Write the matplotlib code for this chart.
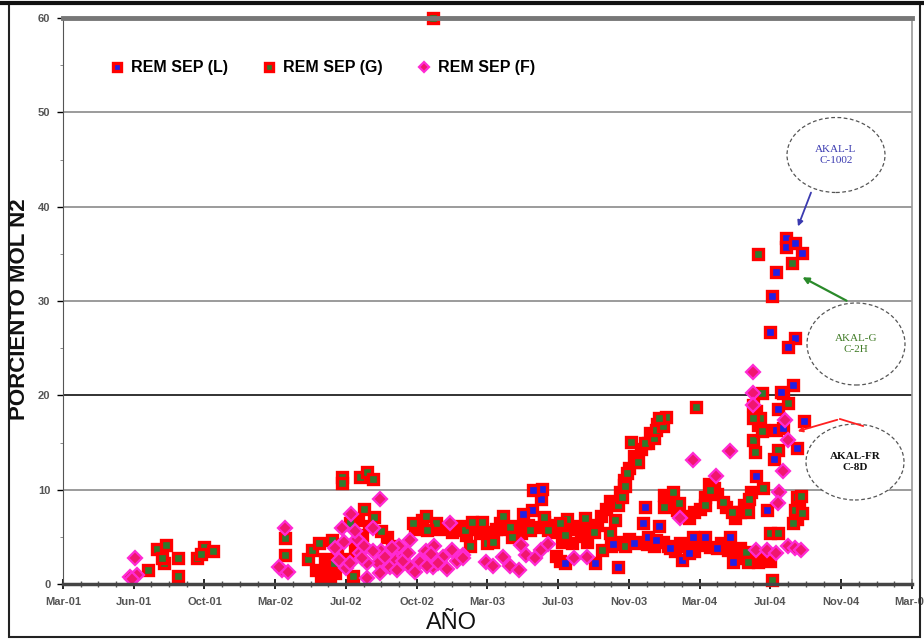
import numpy as np
import matplotlib
matplotlib.use("Agg")
import matplotlib.pyplot as plt
from matplotlib.patches import Ellipse, Rectangle

W, H = 924, 639

# x axis: months counted from Mar-01, one major tick every 4 months
tick_pos = list(range(0, 49, 4))
tick_labels = ["Mar-01", "Jun-01", "Oct-01", "Mar-02", "Jul-02", "Oct-02", "Mar-03",
               "Jul-03", "Nov-03", "Mar-04", "Jul-04", "Nov-04", "Mar-05"]

# (month, % mol N2)
rem_g = [(4.8, 1.5), (5.3, 3.7), (5.8, 4.1), (5.7, 2.2), (5.6, 2.8), (6.5, 2.8), (6.5, 0.85),
         (7.6, 2.75), (8.0, 3.9), (8.5, 3.5), (7.8, 3.2),
         (12.55, 4.9), (12.55, 3.1), (13.85, 2.7), (14.1, 3.6), (14.5, 4.3), (15.3, 2.2),
         (15.2, 4.7), (15.8, 11.3), (15.8, 10.7), (16.8, 11.3), (17.2, 11.9), (17.5, 11.1),
         (17.0, 7.95), (17.6, 7.1), (16.2, 6.5), (18.0, 5.6), (16.4, 0.85), (18.6, 4.0),
         (19.8, 6.5), (20.5, 7.2), (21.1, 6.5), (20.6, 5.7), (22.7, 5.7), (23.1, 6.6),
         (23.0, 4.0), (20.9, 60.0),
         (23.7, 6.6), (24.0, 4.3), (24.3, 4.5), (24.9, 7.2), (25.3, 6.0), (25.4, 5.0),
         (26.4, 5.7), (27.2, 7.1), (27.4, 5.7), (28.5, 6.9), (28.4, 5.2), (28.1, 6.5),
         (29.5, 7.0), (30.0, 5.5), (30.5, 3.6), (30.9, 5.4), (31.2, 6.8), (31.4, 8.4),
         (31.6, 9.2), (31.7, 10.5), (31.9, 11.8), (32.4, 12.9), (32.1, 15.1), (32.5, 12.9),
         (32.9, 14.9), (33.4, 15.5), (33.5, 16.3), (33.9, 16.7), (34.1, 17.7), (33.7, 17.6),
         (35.8, 18.8), (31.8, 10.4), (31.8, 4.0),
         (34.5, 9.8), (34.8, 8.6), (34.0, 8.2), (36.3, 8.4), (36.6, 10.0), (37.3, 8.7),
         (37.8, 7.6), (38.8, 9.0), (38.7, 7.6), (38.6, 3.4), (38.7, 2.3),
         (39.0, 15.3), (39.1, 14.0), (39.6, 16.3), (39.4, 17.6), (39.5, 20.2), (39.0, 19.0),
         (39.0, 17.6), (39.5, 16.2), (39.6, 10.2), (40.0, 5.4), (40.4, 5.4), (40.1, 0.4),
         (40.4, 14.2), (41.0, 19.2), (41.5, 9.2), (41.4, 7.8), (41.3, 6.5), (41.7, 9.3),
         (41.8, 7.5), (39.3, 35.0), (41.2, 34.0)]

rem_l = [(27.0, 9.0), (27.1, 10.1), (26.6, 10.0), (26.5, 7.8), (26.0, 7.4), (28.4, 2.2),
         (30.1, 2.2), (31.1, 4.2), (31.4, 1.8), (32.9, 8.2), (32.8, 6.5), (33.7, 6.1),
         (32.3, 4.3), (33.1, 5.0), (33.5, 4.7), (34.3, 3.8), (35.0, 2.5), (35.6, 5.0),
         (36.3, 5.0), (35.4, 3.3), (37.0, 3.8), (37.7, 5.0), (37.9, 2.3), (39.2, 11.5),
         (39.8, 7.8), (40.7, 20.2), (41.3, 21.1), (40.4, 18.5), (40.3, 16.3), (40.7, 16.5),
         (40.2, 13.3), (41.5, 14.4), (41.9, 17.3), (40.9, 36.7), (40.9, 35.7), (41.4, 36.1),
         (41.8, 35.1), (40.3, 33.1), (40.1, 30.5), (40.0, 26.7), (41.4, 26.1), (41.0, 25.1),
         (40.6, 20.4)]

rem_f = [(4.07, 2.8), (3.8, 0.7), (4.2, 1.0), (3.9, 0.5),
         (12.4, 1.5), (12.7, 1.3), (12.55, 5.9), (12.2, 1.8),
         (15.8, 5.9), (16.3, 7.4), (17.9, 9.0), (17.5, 5.9), (16.0, 1.7), (17.2, 0.6),
         (17.8, 2.2), (17.2, 2.2), (16.8, 3.3), (18.3, 3.1), (18.5, 1.8), (19.0, 4.0),
         (19.6, 4.7), (19.6, 1.8), (20.9, 1.8), (21.5, 2.9), (21.9, 6.5), (22.6, 3.1),
         (18.0, 3.5), (18.8, 2.5), (19.3, 3.0), (20.2, 2.5), (20.5, 3.5), (21.0, 4.0),
         (16.6, 4.8), (17.0, 4.0), (15.6, 2.5), (15.4, 3.8), (15.9, 4.5), (16.5, 5.6),
         (16.2, 2.2), (16.9, 2.8), (17.5, 3.5), (17.9, 1.2), (18.2, 2.9), (18.6, 3.8),
         (18.9, 1.5), (19.2, 2.4), (19.5, 3.3), (19.9, 1.3), (20.2, 2.3), (20.6, 1.9),
         (20.8, 3.2), (21.2, 2.2), (21.7, 1.6), (22.0, 3.6), (22.3, 2.4),
         (22.6, 2.75), (23.9, 2.3), (24.3, 1.9), (24.9, 2.9), (25.3, 1.9), (25.8, 1.5),
         (25.9, 4.1), (26.2, 3.1), (26.7, 2.8), (27.0, 3.6), (27.4, 4.2), (28.9, 2.75),
         (29.6, 2.9),
         (35.6, 13.1), (36.9, 11.4), (37.7, 14.1), (34.9, 7.0), (39.0, 22.5), (39.0, 20.2),
         (39.0, 19.0), (39.2, 3.6), (39.8, 3.6), (40.3, 3.3), (40.8, 17.4), (41.0, 15.3),
         (40.7, 12.0), (40.5, 9.7), (40.4, 8.6), (41.0, 4.0), (41.4, 3.8), (41.7, 3.6)]

# solid red blobs where the squares pile up
rem_red = [(14.3, 1.5), (14.6, 0.9), (14.9, 1.8), (15.1, 0.6), (15.4, 1.2), (15.7, 2.0),
           (14.8, 2.6), (15.5, 3.2), (16.1, 2.6), (16.5, 3.8), (16.9, 5.2), (17.3, 6.2),
           (16.7, 6.8), (18.3, 5.0), (18.7, 3.4),
           (19.9, 5.8), (20.3, 6.8), (21.3, 5.8), (21.6, 6.0), (22.0, 5.5), (22.4, 6.2),
           (22.8, 5.2), (23.4, 5.8), (23.6, 5.4),
           (24.0, 5.5), (24.5, 5.8), (24.7, 6.5), (25.0, 5.8), (25.6, 6.2), (25.9, 5.4),
           (26.3, 6.3), (26.8, 6.0), (27.2, 6.6), (27.6, 6.3), (27.9, 5.5), (28.2, 4.5),
           (28.6, 5.8), (28.8, 4.3), (29.1, 6.1), (29.3, 5.1), (29.6, 4.4), (29.8, 6.0),
           (30.2, 6.3), (30.4, 7.2), (30.7, 8.0), (30.9, 8.8), (27.9, 3.0), (28.1, 2.4),
           (31.5, 9.8), (31.7, 11.0), (32.0, 12.3), (32.3, 13.6), (32.7, 14.3), (33.1, 15.0),
           (33.2, 16.0), (33.6, 17.0),
           (31.0, 4.0), (31.6, 4.5), (32.0, 4.8), (32.6, 4.4), (33.0, 4.2), (33.4, 4.0),
           (33.9, 4.5), (34.2, 4.0), (34.6, 3.5), (34.9, 4.3), (35.3, 4.0), (35.7, 3.5),
           (36.0, 4.1), (36.6, 3.9), (37.2, 4.3), (37.6, 3.6), (38.0, 3.0), (38.3, 3.8),
           (38.5, 2.8), (38.9, 2.5), (39.3, 2.3), (39.6, 2.8), (40.0, 2.4),
           (34.3, 9.0), (34.7, 7.8), (35.1, 7.2), (35.4, 7.0), (35.7, 7.6), (36.0, 8.0),
           (36.3, 9.2), (36.5, 10.6), (36.8, 10.2), (37.0, 9.5), (37.5, 8.2), (38.0, 7.0),
           (38.3, 7.6), (38.5, 8.4), (38.9, 9.8), (34.0, 9.4),
           (39.2, 18.3), (39.3, 16.9), (41.6, 8.5), (41.5, 6.9)]


def px(x, y):
    return (x / W, 1 - y / H)


fig = plt.figure(figsize=(W / 100, H / 100), dpi=100)
ax = fig.add_axes([63 / W, 1 - 584 / H, (912 - 63) / W, (584 - 18) / H])

sq = dict(ls="none", marker="s", ms=7.3, mew=2.4, mec="#ff0000")
r = np.array(rem_red).T
ax.plot(r[0], r[1], mfc="#ff0000", **sq)
g = np.array(rem_g).T
ax.plot(g[0], g[1], mfc="#2e7b2e", label="REM SEP (G)", clip_on=False, **sq)
l = np.array(rem_l).T
ax.plot(l[0], l[1], mfc="#1f1fe6", label="REM SEP (L)", **sq)
f = np.array(rem_f).T
ax.plot(f[0], f[1], ls="none", marker="D", ms=6.8, mfc="#f0166e", mec="#ff2ad4", mew=1.6,
        label="REM SEP (F)")

ax.set_xlim(0, 48)
ax.set_ylim(0, 60)
ax.set_xticks(tick_pos)
ax.set_xticklabels(tick_labels)
ax.set_xticks(range(0, 49), minor=True)
ax.set_yticks(range(0, 61, 10))
ax.set_yticks(range(5, 60, 10), minor=True)
ax.tick_params(axis="x", which="major", direction="inout", length=7, width=1.2, pad=6,
               labelsize=8, labelcolor="#555555")
ax.tick_params(axis="x", which="minor", direction="inout", length=4, width=1, color="#555555")
ax.tick_params(axis="y", which="major", direction="out", length=4, width=1, pad=5,
               labelsize=8, labelcolor="#555555")
ax.tick_params(axis="y", which="minor", direction="out", length=2, color="#777777")
for t in ax.get_xticklabels() + ax.get_yticklabels():
    t.set_fontweight("bold")
    t.set_family("Liberation Sans")

for v in (10, 30, 40, 50):
    ax.axhline(v, color="#8a8a8a", lw=1.2, zorder=0)
ax.axhline(20, color="#222222", lw=1.3, zorder=0)

ax.spines["top"].set_linewidth(3.5)
ax.spines["top"].set_color("#777777")
ax.spines["right"].set_color("#999999")
ax.spines["right"].set_linewidth(1.2)
ax.spines["bottom"].set_linewidth(2.5)
ax.spines["bottom"].set_color("#444444")
ax.spines["left"].set_color("#555555")

ax.set_ylabel("PORCIENTO MOL N2", fontsize=16, family="Liberation Sans", weight="bold",
              color="#111111")
ax.yaxis.set_label_coords(-0.039, 0.485)
ax.set_xlabel("AÑO", fontsize=17, family="Liberation Sans", color="#111111")
ax.xaxis.set_label_coords(0.458, -0.049)

h, lab = ax.get_legend_handles_labels()
order = [1, 0, 2]
ax.legend([h[i] for i in order], [lab[i] for i in order], ncol=3, loc="center left",
          bbox_to_anchor=(0.036, 0.912), frameon=False, markerscale=0.75,
          handletextpad=0.35, columnspacing=2.0, handlelength=1.1,
          prop={"family": "Liberation Sans", "weight": "bold", "size": 11.5})

# callouts
callouts = [((836, 155), 98, 75, "AKAL-L\nC-1002", "#3a3ab0"),
            ((856, 344), 98, 82, "AKAL-G\nC-2H", "#3f7a25"),
            ((855, 462), 98, 76, "AKAL-FR\nC-8D", "#111111")]
for (cx, cy), ew, eh, txt, col in callouts:
    fig.patches.append(Ellipse(px(cx, cy), ew / W, eh / H, transform=fig.transFigure,
                               fill=True, fc="white", ec="#555555", ls=(0, (3, 2)), lw=0.9))
    fig.text(*px(cx, cy), txt, ha="center", va="center", fontsize=8, color=col,
             family="Liberation Serif", weight="bold" if "FR" in txt else "normal",
             linespacing=1.3)

arrow_kw = dict(xycoords="figure fraction", textcoords="figure fraction")
ax.annotate("", xy=px(797, 229), xytext=px(812, 190),
            arrowprops=dict(arrowstyle="-|>", color="#3a3ab0", lw=1.3, mutation_scale=8),
            **arrow_kw)
ax.annotate("", xy=px(800, 276), xytext=px(849, 302),
            arrowprops=dict(arrowstyle="-|>", color="#2a8a2a", lw=1.6, mutation_scale=9),
            **arrow_kw)
fig.lines.append(plt.Line2D([863 / W, 840 / W], [1 - 426 / H, 1 - 419 / H],
                            transform=fig.transFigure, color="#ff2020", lw=1.3))
ax.annotate("", xy=px(795, 432), xytext=px(840, 419),
            arrowprops=dict(arrowstyle="-|>", color="#ff2020", lw=1.3, mutation_scale=7),
            **arrow_kw)

# outer frame
fig.patches.append(Rectangle((9 / W, 2 / H), 911 / W, 634 / H, transform=fig.transFigure,
                             fill=False, ec="#222222", lw=1.5))
fig.lines.append(plt.Line2D([0, 1], [1 - 3 / H, 1 - 3 / H], transform=fig.transFigure,
                            color="#111111", lw=3))

fig.savefig("out.png", dpi=100)
